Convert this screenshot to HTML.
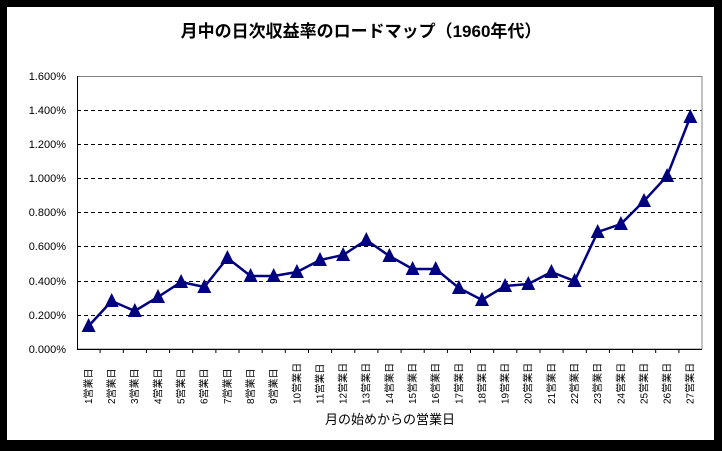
<!DOCTYPE html>
<html><head><meta charset="utf-8"><style>
body{margin:0;background:#000;}
svg{display:block;font-family:"Liberation Sans","Noto Sans CJK JP",sans-serif;}
</style></head><body>
<svg width="722" height="451" xmlns="http://www.w3.org/2000/svg" xmlns:xlink="http://www.w3.org/1999/xlink">
<defs><polygon id="t" points="0,-8 -7,6 7,6" fill="#000080"/></defs>
<rect x="0" y="0" width="722" height="451" fill="#000"/>
<rect x="7" y="7" width="707" height="433" fill="#fff"/>
<text x="361" y="37" font-size="17" text-anchor="middle" font-weight="bold">月中の日次収益率のロードマップ（1960年代）</text>
<g stroke="#000" stroke-width="1" stroke-dasharray="4,3">
<line x1="77" x2="702" y1="110.5" y2="110.5"/><line x1="77" x2="702" y1="144.5" y2="144.5"/>
<line x1="77" x2="702" y1="178.5" y2="178.5"/><line x1="77" x2="702" y1="212.5" y2="212.5"/>
<line x1="77" x2="702" y1="246.5" y2="246.5"/><line x1="77" x2="702" y1="281.5" y2="281.5"/>
<line x1="77" x2="702" y1="315.5" y2="315.5"/>
</g>
<rect x="77.5" y="76.5" width="624.5" height="272.5" fill="none" stroke="#808080"/>
<line x1="77.5" y1="76" x2="77.5" y2="349" stroke="#000"/>
<line x1="77" y1="349.5" x2="702" y2="349.5" stroke="#000"/>
<g font-size="11" text-anchor="end">
<text x="66" y="80">1.600%</text><text x="66" y="114">1.400%</text><text x="66" y="148">1.200%</text>
<text x="66" y="182">1.000%</text><text x="66" y="216">0.800%</text><text x="66" y="250">0.600%</text>
<text x="66" y="285">0.400%</text><text x="66" y="319">0.200%</text><text x="66" y="353">0.000%</text>
</g>
<path stroke="#000" d="M100.1 349V353M123.3 349V353M146.4 349V353M169.6 349V353M192.7 349V353M215.9 349V353M239 349V353M262.2 349V353M285.3 349V353M308.5 349V353M331.6 349V353M354.8 349V353M377.9 349V353M401.1 349V353M424.2 349V353M447.4 349V353M470.5 349V353M493.7 349V353M516.8 349V353M540 349V353M563.1 349V353M586.3 349V353M609.4 349V353M632.6 349V353M655.7 349V353M678.9 349V353"/>
<g font-size="10">
<text transform="translate(92,404) rotate(-90)">1営業日</text>
<text transform="translate(115.1,404) rotate(-90)">2営業日</text>
<text transform="translate(138.2,404) rotate(-90)">3営業日</text>
<text transform="translate(161.4,404) rotate(-90)">4営業日</text>
<text transform="translate(184.5,404) rotate(-90)">5営業日</text>
<text transform="translate(207.7,404) rotate(-90)">6営業日</text>
<text transform="translate(230.8,404) rotate(-90)">7営業日</text>
<text transform="translate(254,404) rotate(-90)">8営業日</text>
<text transform="translate(277.1,404) rotate(-90)">9営業日</text>
<text transform="translate(300.3,404) rotate(-90)">10営業日</text>
<text transform="translate(323.4,404) rotate(-90)">11営業日</text>
<text transform="translate(346.5,404) rotate(-90)">12営業日</text>
<text transform="translate(369.7,404) rotate(-90)">13営業日</text>
<text transform="translate(392.8,404) rotate(-90)">14営業日</text>
<text transform="translate(416,404) rotate(-90)">15営業日</text>
<text transform="translate(439.1,404) rotate(-90)">16営業日</text>
<text transform="translate(462.3,404) rotate(-90)">17営業日</text>
<text transform="translate(485.4,404) rotate(-90)">18営業日</text>
<text transform="translate(508.5,404) rotate(-90)">19営業日</text>
<text transform="translate(531.7,404) rotate(-90)">20営業日</text>
<text transform="translate(554.8,404) rotate(-90)">21営業日</text>
<text transform="translate(578,404) rotate(-90)">22営業日</text>
<text transform="translate(601.1,404) rotate(-90)">23営業日</text>
<text transform="translate(624.3,404) rotate(-90)">24営業日</text>
<text transform="translate(647.4,404) rotate(-90)">25営業日</text>
<text transform="translate(670.5,404) rotate(-90)">26営業日</text>
<text transform="translate(693.7,404) rotate(-90)">27営業日</text>
</g>
<polyline fill="none" stroke="#000080" stroke-width="2.5" points="88.6,326 111.7,301 134.8,311 158,297 181.1,282 204.3,287 227.4,258 250.6,276 273.7,276 296.9,272 320,260 343.1,255 366.3,240 389.4,256 412.6,269 435.7,269 458.9,288 482,300 505.1,286 528.3,284 551.4,272 574.6,281 597.7,232 620.9,224 644,201 667.1,176 690.3,117"/>
<use xlink:href="#t" x="88.6" y="326"/><use xlink:href="#t" x="111.7" y="301"/><use xlink:href="#t" x="134.8" y="311"/>
<use xlink:href="#t" x="158" y="297"/><use xlink:href="#t" x="181.1" y="282"/><use xlink:href="#t" x="204.3" y="287"/>
<use xlink:href="#t" x="227.4" y="258"/><use xlink:href="#t" x="250.6" y="276"/><use xlink:href="#t" x="273.7" y="276"/>
<use xlink:href="#t" x="296.9" y="272"/><use xlink:href="#t" x="320" y="260"/><use xlink:href="#t" x="343.1" y="255"/>
<use xlink:href="#t" x="366.3" y="240"/><use xlink:href="#t" x="389.4" y="256"/><use xlink:href="#t" x="412.6" y="269"/>
<use xlink:href="#t" x="435.7" y="269"/><use xlink:href="#t" x="458.9" y="288"/><use xlink:href="#t" x="482" y="300"/>
<use xlink:href="#t" x="505.1" y="286"/><use xlink:href="#t" x="528.3" y="284"/><use xlink:href="#t" x="551.4" y="272"/>
<use xlink:href="#t" x="574.6" y="281"/><use xlink:href="#t" x="597.7" y="232"/><use xlink:href="#t" x="620.9" y="224"/>
<use xlink:href="#t" x="644" y="201"/><use xlink:href="#t" x="667.1" y="176"/><use xlink:href="#t" x="690.3" y="117"/>
<text x="390" y="424" font-size="13" text-anchor="middle">月の始めからの営業日</text>
</svg>
</body></html>
